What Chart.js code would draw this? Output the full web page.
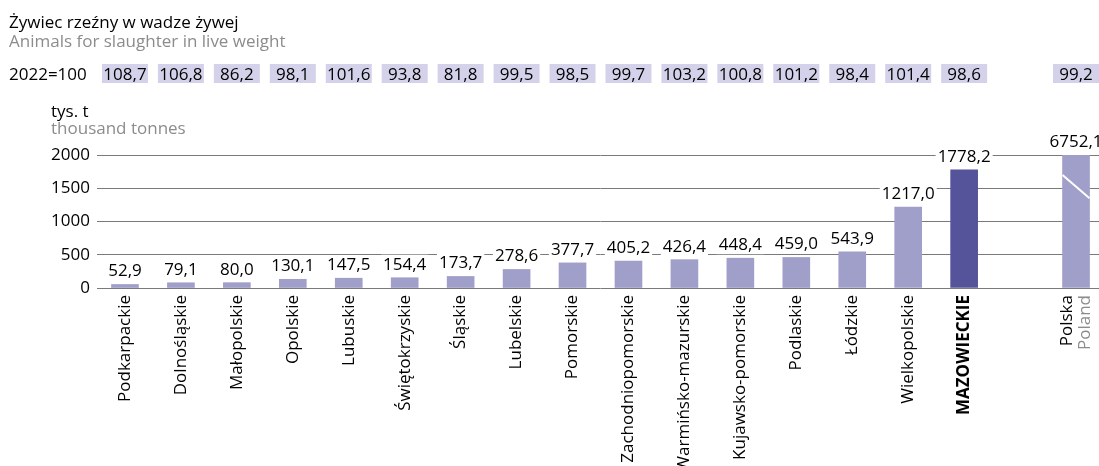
<!DOCTYPE html>
<html lang="pl">
<head>
<meta charset="utf-8">
<script src="https://cdn.jsdelivr.net/npm/chart.js@4.4.1/dist/chart.umd.min.js"></script>
<style>
  html, body { margin: 0; padding: 0; background: #fff; overflow: hidden; }
</style>
</head>
<body>
<canvas id="graphique" width="1104" height="466"></canvas>
<script>
// categories (empty slot = gap before Polska)
const regiony = ["Podkarpackie", "Dolnośląskie", "Małopolskie", "Opolskie", "Lubuskie",
  "Świętokrzyskie", "Śląskie", "Lubelskie", "Pomorskie", "Zachodniopomorskie",
  "Warmińsko-mazurskie", "Kujawsko-pomorskie", "Podlaskie", "Łódzkie", "Wielkopolskie",
  "MAZOWIECKIE", "", "Polska"];
const podpisPolska = ["Polska", "Poland"];

// tys. t
const wartosci = [52.9, 79.1, 80.0, 130.1, 147.5, 154.4, 173.7, 278.6, 377.7, 405.2,
  426.4, 448.4, 459.0, 543.9, 1217.0, 1778.2, null, 6752.1];

// 2022=100
const indeksy = [108.7, 106.8, 86.2, 98.1, 101.6, 93.8, 81.8, 99.5, 98.5, 99.7,
  103.2, 100.8, 101.2, 98.4, 101.4, 98.6, null, 99.2];

const osY = { min: 0, max: 2000, krok: 500 };

const FONT = '"Open Sans", sans-serif';
const JASNY = "#a09fc9";
const CIEMNY = "#55539a";
const SZARY = "#8c8c8c";

function fmt(v) {
  return v.toFixed(1).replace(".", ",");
}

const rysowanie = {
  id: "rysowanie",
  afterDatasetsDraw(chart) {
    const ctx = chart.ctx;
    const xs = chart.scales.x;
    const ys = chart.scales.y;
    const area = chart.chartArea;
    const bary = chart.getDatasetMeta(0).data;
    ctx.save();

    // break mark on Polska bar
    const ip = regiony.length - 1;
    const bp = bary[ip];
    ctx.strokeStyle = "#fff";
    ctx.lineWidth = 2;
    ctx.beginPath();
    ctx.moveTo(bp.x - bp.width / 2, ys.getPixelForValue(1700));
    ctx.lineTo(bp.x + bp.width / 2, ys.getPixelForValue(1350));
    ctx.stroke();

    // value labels with white background
    ctx.font = "17px " + FONT;
    ctx.textAlign = "center";
    ctx.textBaseline = "alphabetic";
    for (let i = 0; i < wartosci.length; i++) {
      if (wartosci[i] == null) continue;
      const b = bary[i];
      const top = Math.max(b.y, area.top);
      const t = fmt(wartosci[i]);
      const w = ctx.measureText(t).width;
      const base = top - 8;
      ctx.fillStyle = "#fff";
      ctx.fillRect(b.x - w / 2 - 2, base - 15, w + 4, 19);
      ctx.fillStyle = "#000";
      ctx.fillText(t, b.x, base);
    }

    // category labels, rotated
    for (let i = 0; i < regiony.length; i++) {
      const x = xs.getPixelForValue(i);
      ctx.save();
      ctx.translate(x, area.bottom + 7);
      ctx.rotate(-Math.PI / 2);
      ctx.textAlign = "right";
      ctx.textBaseline = "middle";
      if (i === ip) {
        ctx.font = "17px " + FONT;
        ctx.fillStyle = "#000";
        ctx.fillText(podpisPolska[0], 0, -9);
        ctx.fillStyle = SZARY;
        ctx.fillText(podpisPolska[1], 0, 9);
      } else {
        ctx.font = (i === 15 ? "bold " : "") + "17px " + FONT;
        ctx.fillStyle = "#000";
        ctx.fillText(regiony[i], 0, 0);
      }
      ctx.restore();
    }
    ctx.restore();
  },
  afterDraw(chart) {
    const ctx = chart.ctx;
    const xs = chart.scales.x;
    ctx.save();
    ctx.textAlign = "left";
    ctx.textBaseline = "alphabetic";

    ctx.font = "17px " + FONT;
    ctx.fillStyle = "#000";
    ctx.fillText("Żywiec rzeźny w wadze żywej", 9, 28);
    ctx.fillStyle = SZARY;
    ctx.fillText("Animals for slaughter in live weight", 9, 47);

    // index row
    ctx.font = "17px " + FONT;
    ctx.fillStyle = "#000";
    ctx.fillText("2022=100", 9, 80);
    ctx.textAlign = "center";
    for (let i = 0; i < indeksy.length; i++) {
      if (indeksy[i] == null) continue;
      const x = xs.getPixelForValue(i);
      ctx.fillStyle = "#d3d2ea";
      ctx.fillRect(x - 23, 64, 46, 19);
      ctx.fillStyle = "#000";
      ctx.fillText(fmt(indeksy[i]), x, 80);
    }

    // unit
    ctx.textAlign = "left";
    ctx.font = "17px " + FONT;
    ctx.fillStyle = "#000";
    ctx.fillText("tys. t", 51, 117);
    ctx.fillStyle = SZARY;
    ctx.fillText("thousand tonnes", 51, 134);
    ctx.restore();
  }
};

new Chart(document.querySelector("#graphique"), {
  type: "bar",
  data: {
    labels: regiony,
    datasets: [{
      data: wartosci,
      backgroundColor: regiony.map((r, i) => i === 15 ? CIEMNY : JASNY),
      barThickness: 27
    }]
  },
  options: {
    responsive: false,
    animation: false,
    layout: { padding: { top: 155, right: 0, bottom: 0, left: 0 } },
    plugins: { legend: { display: false }, tooltip: { enabled: false } },
    scales: {
      x: {
        grid: { display: false },
        border: { display: false },
        ticks: { display: false },
        afterFit: s => { s.height = 466 - 288; }
      },
      y: {
        min: osY.min,
        max: osY.max,
        ticks: {
          stepSize: osY.krok,
          padding: 7,
          color: "#000",
          font: { family: FONT, size: 17 },
          callback: v => String(v)
        },
        grid: { color: "#7a7a7a", lineWidth: 1, drawTicks: false },
        border: { display: false },
        afterFit: s => { s.width = 97; }
      }
    }
  },
  plugins: [rysowanie]
});
</script>
</body>
</html>
